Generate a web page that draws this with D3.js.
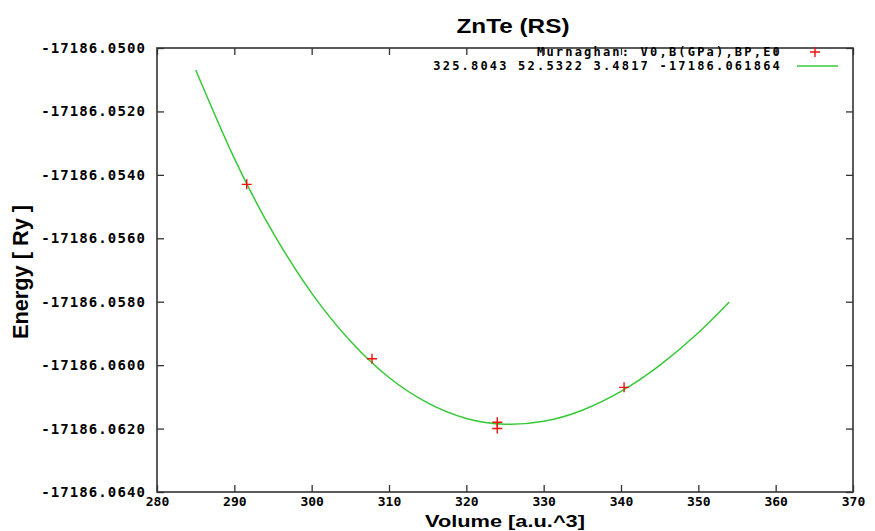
<!DOCTYPE html>
<html>
<head>
<meta charset="utf-8">
<script src="https://cdn.jsdelivr.net/npm/d3@7"></script>
<style>
  body { margin: 0; background: #fff; }
  svg text { fill: #000; }
</style>
</head>
<body>
<div id="chart"></div>
<script>
// measured points (volume, energy)
const volumes = [291.6, 307.8, 324.0, 324.0, 340.4];
const energies = [-17186.0543, -17186.0598, -17186.0618, -17186.0620, -17186.0607];

// fitted curve
const fitVolumes = [285, 290, 295, 300, 305, 310, 315, 320, 325, 330, 335, 340, 345, 350, 354];
const fitEnergies = [-17186.05069, -17186.05348, -17186.05582, -17186.05773, -17186.05924,
  -17186.06039, -17186.06119, -17186.06168, -17186.06186, -17186.06177, -17186.06142,
  -17186.06083, -17186.06001, -17186.05898, -17186.05801];

const xTicks = [280, 290, 300, 310, 320, 330, 340, 350, 360, 370];
const yTicks = [-17186.0500, -17186.0520, -17186.0540, -17186.0560, -17186.0580,
  -17186.0600, -17186.0620, -17186.0640];

const legendLabels = ['Murnaghan: V0,B(GPa),BP,E0', '325.8043 52.5322 3.4817 -17186.061864'];

const width = 875;
const height = 531;
const margin = {top: 48, right: 20, bottom: 39, left: 157};

const svg = d3.select('#chart')
  .append('svg')
  .attr('width', width)
  .attr('height', height);

const x = d3.scaleLinear()
  .domain([280, 370])
  .range([margin.left, width - margin.right - 2]);

const y = d3.scaleLinear()
  .domain([-17186.0640, -17186.0500])
  .range([height - margin.bottom, margin.top]);

const tickFont = 'DejaVu Sans Mono, monospace';

// ticks, drawn inward on all four sides
const tickLen = 7;
const axisColor = '#333';

svg.append('g')
  .attr('transform', `translate(0,${y.range()[0]})`)
  .call(d3.axisBottom(x).tickValues(xTicks).tickSizeInner(-tickLen).tickSizeOuter(0).tickFormat(d3.format('d')))
  .call(g => g.select('.domain').remove())
  .call(g => g.selectAll('line').attr('stroke', axisColor).attr('stroke-width', 1.3))
  .call(g => g.selectAll('text')
    .attr('y', 5)
    .attr('dy', '0.71em')
    .style('font-family', tickFont)
    .style('font-weight', 'bold')
    .style('font-size', '13px'));

svg.append('g')
  .attr('transform', `translate(0,${y.range()[1]})`)
  .call(d3.axisTop(x).tickValues(xTicks).tickSizeInner(-tickLen).tickSizeOuter(0).tickFormat(''))
  .call(g => g.select('.domain').remove())
  .call(g => g.selectAll('line').attr('stroke', axisColor).attr('stroke-width', 1.3));

svg.append('g')
  .attr('transform', `translate(${x.range()[0]},0)`)
  .call(d3.axisLeft(y).tickValues(yTicks).tickSizeInner(-tickLen).tickSizeOuter(0).tickFormat(d3.format('.4f')))
  .call(g => g.select('.domain').remove())
  .call(g => g.selectAll('line').attr('stroke', axisColor).attr('stroke-width', 1.3))
  .call(g => g.selectAll('text')
    .attr('x', -11)
    .text(d => d3.format('.4f')(d).replace('−', '-'))
    .style('font-family', tickFont)
    .style('font-weight', 'bold')
    .style('font-size', '14px')
    .style('letter-spacing', '1.1px'));

svg.append('g')
  .attr('transform', `translate(${x.range()[1]},0)`)
  .call(d3.axisRight(y).tickValues(yTicks).tickSizeInner(-tickLen).tickSizeOuter(0).tickFormat(''))
  .call(g => g.select('.domain').remove())
  .call(g => g.selectAll('line').attr('stroke', axisColor).attr('stroke-width', 1.3));

// frame
svg.append('rect')
  .attr('x', x.range()[0])
  .attr('y', y.range()[1])
  .attr('width', x.range()[1] - x.range()[0])
  .attr('height', y.range()[0] - y.range()[1])
  .attr('fill', 'none')
  .attr('stroke', axisColor)
  .attr('stroke-width', 1.6);

// fit line
const line = d3.line()
  .x((d, i) => x(fitVolumes[i]))
  .y(d => y(d))
  .curve(d3.curveNatural);

svg.append('path')
  .datum(fitEnergies)
  .attr('d', line)
  .attr('fill', 'none')
  .attr('stroke', '#36c936')
  .attr('stroke-width', 1.5);

// data points as red plus signs
svg.selectAll('.pt')
  .data(energies)
  .enter()
  .append('path')
  .attr('class', 'pt')
  .attr('transform', (d, i) => `translate(${x(volumes[i])},${y(d)})`)
  .attr('d', 'M-5,0H5M0,-5V5')
  .attr('stroke', '#f01010')
  .attr('stroke-width', 1.4)
  .attr('fill', 'none');

// legend
const legend = svg.append('g');
legend.selectAll('text')
  .data(legendLabels)
  .enter()
  .append('text')
  .attr('x', 782)
  .attr('y', (d, i) => 56 + i * 14)
  .attr('text-anchor', 'end')
  .style('font-family', tickFont)
  .style('font-weight', 'bold')
  .style('font-size', '12px')
  .style('letter-spacing', '2.2px')
  .text(d => d);

legend.append('path')
  .attr('d', 'M810,52H820M815,47V57')
  .attr('stroke', '#f01010')
  .attr('stroke-width', 1.4);

legend.append('line')
  .attr('x1', 797).attr('x2', 838)
  .attr('y1', 66).attr('y2', 66)
  .attr('stroke', '#36c936')
  .attr('stroke-width', 1.5);

// titles
svg.append('text')
  .attr('x', 513)
  .attr('y', 33)
  .attr('text-anchor', 'middle')
  .attr('textLength', 113)
  .attr('lengthAdjust', 'spacingAndGlyphs')
  .style('font-family', 'Liberation Sans, Arial, sans-serif')
  .style('font-weight', 'bold')
  .style('font-size', '21px')
  .text('ZnTe (RS)');

svg.append('text')
  .attr('x', 505)
  .attr('y', 527)
  .attr('text-anchor', 'middle')
  .attr('textLength', 160)
  .attr('lengthAdjust', 'spacingAndGlyphs')
  .style('font-family', 'Liberation Sans, Arial, sans-serif')
  .style('font-weight', 'bold')
  .style('font-size', '17px')
  .text('Volume [a.u.^3]');

svg.append('text')
  .attr('transform', 'translate(28,272) rotate(-90)')
  .attr('text-anchor', 'middle')
  .attr('textLength', 134)
  .attr('lengthAdjust', 'spacingAndGlyphs')
  .style('font-family', 'Liberation Sans, Arial, sans-serif')
  .style('font-weight', 'bold')
  .style('font-size', '22px')
  .text('Energy [ Ry ]');
</script>
</body>
</html>
